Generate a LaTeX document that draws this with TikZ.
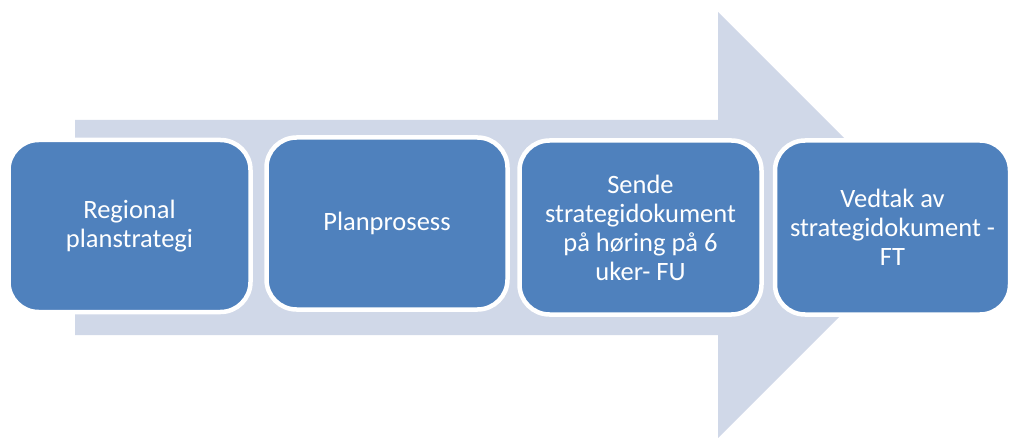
\documentclass[tikz,border=0pt]{standalone}
\usepackage{fontspec}
\setmainfont{Carlito}
\begin{document}
\begin{tikzpicture}[x=1pt,y=-1pt]
\definecolor{boxblue}{HTML}{4F81BD}
\definecolor{arrowgray}{HTML}{D0D8E8}
\tikzset{
  stepbox/.style={draw=white, line width=4.5pt, fill=boxblue, rounded corners=30pt,
    text=white, align=center, inner sep=0pt, font=\fontsize{26.5}{29}\selectfont},
}
\useasboundingbox (0,0) rectangle (1009,438);
\fill[arrowgray] (75,120) -- (718,120) -- (718,12) -- (931,225) -- (718,438)
  -- (718,335) -- (75,335) -- cycle;
\node[stepbox, minimum width=242pt, minimum height=172pt] (s1) at (129.5,226)
  {Regional\\planstrategi};
\node[stepbox, minimum width=241pt, minimum height=172pt] (s2) at (387,223.5)
  {Planprosess};
\node[stepbox, minimum width=242pt, minimum height=174pt] (s3) at (640.5,227.5)
  {Sende\\strategidokument\\på høring på 6\\uker- FU};
\node[stepbox, minimum width=235pt, minimum height=174pt] (s4) at (892.5,227.5)
  {Vedtak av\\strategidokument -\\FT};
\end{tikzpicture}
\end{document}
